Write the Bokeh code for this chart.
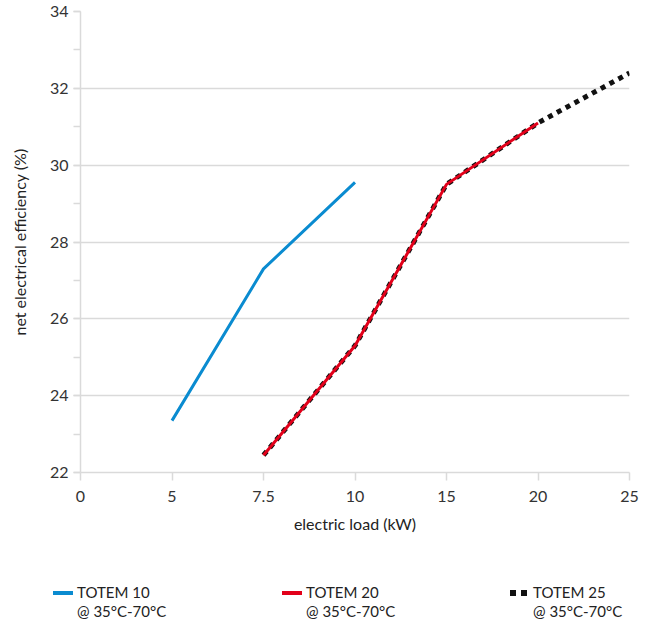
from bokeh.plotting import figure
from bokeh.layouts import column
from bokeh.models import Range1d, FixedTicker, SingleIntervalTicker, Div
from bokeh.embed import file_html
from bokeh.resources import INLINE

# ---- data ----
categories = ["0", "5", "7.5", "10", "15", "20", "25"]
y_ticks = [22, 24, 26, 28, 30, 32, 34]

totem10_load = ["5", "7.5", "10"]
totem10_eff = [23.35, 27.3, 29.55]

totem20_load = ["7.5", "10", "15", "20"]
totem20_eff = [22.45, 25.3, 29.5, 31.1]

totem25_load = ["7.5", "10", "15", "20", "25"]
totem25_eff = [22.45, 25.3, 29.5, 31.1, 32.4]

series_names = ["TOTEM 10", "TOTEM 20", "TOTEM 25"]
series_sub = "@ 35°C-70°C"

FONT = "Lato"
TXT = "#333333"
GRID = "#dadada"
C10, C20, C25 = "#0a8bd0", "#e2001a", "#111111"

def idx(loads):
    return [categories.index(v) for v in loads]

p = figure(width=656, height=545, output_backend="svg", toolbar_location=None,
           x_range=Range1d(0, len(categories) - 1), y_range=Range1d(y_ticks[0], y_ticks[-1]),
           min_border_left=80, min_border_right=27, min_border_top=11, min_border_bottom=73)
p.outline_line_color = None

# axes
p.xaxis.ticker = FixedTicker(ticks=list(range(len(categories))))
p.xaxis.major_label_overrides = {i: c for i, c in enumerate(categories)}
p.yaxis.ticker = SingleIntervalTicker(interval=2, num_minor_ticks=2)
for ax in (p.xaxis[0], p.yaxis[0]):
    ax.axis_line_color = GRID
    ax.axis_line_width = 1.5
    ax.major_tick_line_color = GRID
    ax.major_tick_line_width = 1.5
    ax.minor_tick_line_color = GRID
    ax.minor_tick_line_width = 1.5
    ax.major_tick_in = 0
    ax.minor_tick_in = 0
    ax.major_label_text_font = FONT
    ax.major_label_text_font_size = "16px"
    ax.major_label_text_color = TXT
    ax.axis_label_text_font = FONT
    ax.axis_label_text_font_size = "16px"
    ax.axis_label_text_font_style = "normal"
    ax.axis_label_text_color = "#222222"
p.xaxis.major_tick_out = 8
p.xaxis.minor_tick_out = 0
p.xaxis.major_label_standoff = 10
p.xaxis.axis_label = "electric load (kW)"
p.xaxis.axis_label_standoff = 9
p.yaxis.major_tick_out = 7
p.yaxis.minor_tick_out = 7
p.yaxis.major_label_standoff = 5
p.yaxis.axis_label = "net electrical efficiency (%)"
p.yaxis.axis_label_standoff = 18

p.xgrid.grid_line_color = None
p.ygrid.grid_line_color = GRID
p.ygrid.grid_line_width = 1.5

# series
p.line(idx(totem25_load), totem25_eff, line_color=C25, line_width=5,
       line_dash="5 5", line_cap="butt")
p.line(idx(totem20_load), totem20_eff, line_color=C20, line_width=3)
p.line(idx(totem10_load), totem10_eff, line_color=C10, line_width=3)

# legend strip (HTML) below the chart
def swatch_solid(color):
    return (f'<span style="position:absolute;left:0;top:8px;width:20px;height:4px;'
            f'background:{color};"></span>')

def swatch_dots(color):
    return (f'<span style="position:absolute;left:0;top:7px;width:6px;height:6px;background:{color};"></span>'
            f'<span style="position:absolute;left:11px;top:7px;width:6px;height:6px;background:{color};"></span>')

swatches = [swatch_solid(C10), swatch_solid(C20), swatch_dots(C25)]
lefts = [53, 282, 510]
text_offsets = [24, 24, 23]
items = []
for name, sw, left, toff in zip(series_names, swatches, lefts, text_offsets):
    items.append(
        f'<div style="position:absolute;left:{left}px;top:38px;width:140px;height:40px;">'
        f'{sw}'
        f'<div style="position:absolute;left:{toff}px;top:0;line-height:19px;font-size:15px;'
        f'font-family:{FONT};color:#222222;white-space:nowrap;">{name}<br>{series_sub}</div>'
        f'</div>')
legend_div = Div(text='<div style="position:relative;width:656px;height:82px;margin:0;padding:0;">'
                      + "".join(items) + '</div>',
                 width=656, height=82, margin=0)

layout = column(p, legend_div, spacing=0)
open("out.html", "w").write(file_html(layout, INLINE))
